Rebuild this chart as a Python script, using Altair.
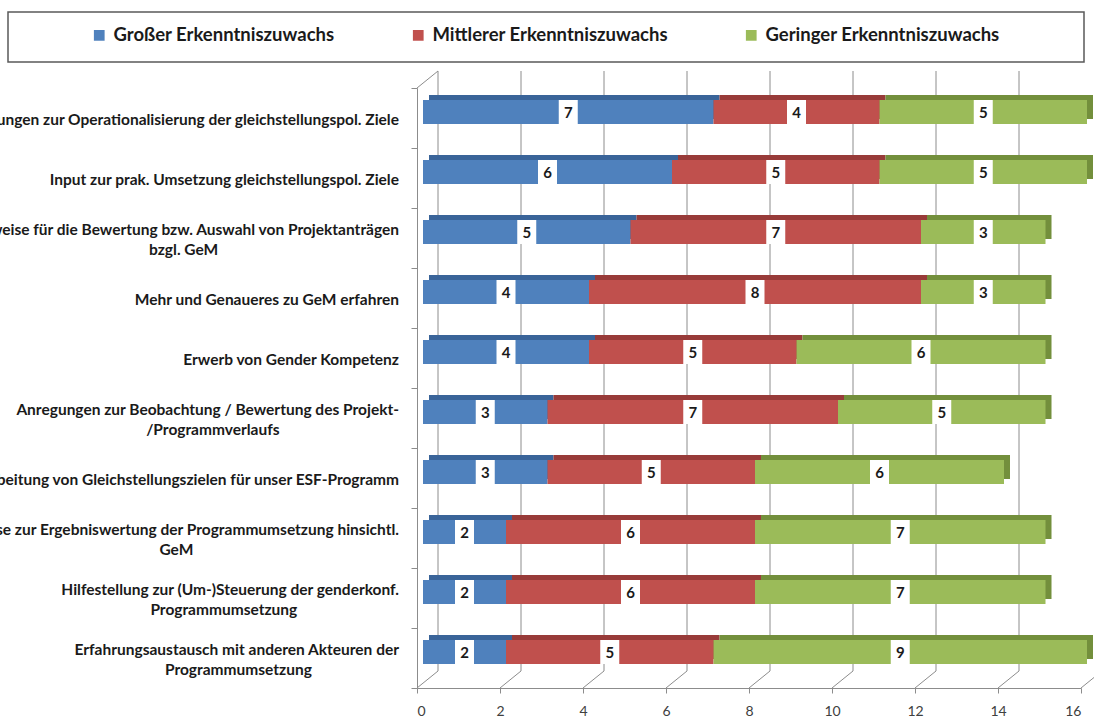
import altair as alt
import pandas as pd

# Category labels, split where the original text wraps
line1 = [
    "Anregungen zur Operationalisierung der gleichstellungspol. Ziele",
    "Input zur prak. Umsetzung gleichstellungspol. Ziele",
    "Hinweise für die Bewertung bzw. Auswahl von Projektanträgen",
    "Mehr und Genaueres zu GeM erfahren",
    "Erwerb von Gender Kompetenz",
    "Anregungen zur Beobachtung / Bewertung des Projekt-",
    "Erarbeitung von Gleichstellungszielen für unser ESF-Programm",
    "Hinweise zur Ergebniswertung der Programmumsetzung hinsichtl.",
    "Hilfestellung zur (Um-)Steuerung der genderkonf.",
    "Erfahrungsaustausch mit anderen Akteuren der",
]
line2 = ["", "", "bzgl. GeM", "", "", "/Programmverlaufs", "", "GeM",
         "Programmumsetzung", "Programmumsetzung"]

# Number of answers per knowledge-gain level
gross = [7, 6, 5, 4, 4, 3, 3, 2, 2, 2]
mittel = [4, 5, 7, 8, 5, 7, 5, 6, 6, 5]
gering = [5, 5, 3, 3, 6, 5, 6, 7, 7, 9]

series = ["Großer Erkenntniszuwachs", "Mittlerer Erkenntniszuwachs",
          "Geringer Erkenntniszuwachs"]
front_colors = ["#4f81bd", "#c0504d", "#9bbb59"]
top_colors = ["#3a6499", "#983b39", "#738f3c"]
x_ticks = list(range(0, 17, 2))

cats = [a + (" " + b if b else "") for a, b in zip(line1, line2)]

rows = []
for i, c in enumerate(cats):
    start = 0
    for k, (s, vals) in enumerate(zip(series, [gross, mittel, gering])):
        v = vals[i]
        rows.append(dict(cat=c, series=s, k=k, value=v,
                         x0=start, x1=start + v, mid=start + v / 2))
        start += v
bars = pd.DataFrame(rows)
labels = pd.DataFrame(dict(cat=cats, line1=line1, line2=line2))
ticks = pd.DataFrame(dict(t=x_ticks))
one = pd.DataFrame(dict(a=[0]))

FONT = "Lato"
GRAY = "#8c8c8c"
W, H = 664, 600
PX_PER_UNIT = W / 16
DX, DY = 21, -17          # depth of the back wall
BX, BY = 6, -6            # bar front face offset inside the depth
TX, TY = 6, -5            # bar top face depth
LABEL_SIZE = 15.5

y_scale = alt.Scale(domain=cats, paddingInner=0, paddingOuter=0)
x_scale = alt.Scale(domain=[0, 16], nice=False)

x_axis = alt.Axis(values=x_ticks, grid=False, domainColor=GRAY, tickColor=GRAY,
                  tickSize=5, labelFont=FONT, labelFontSize=14,
                  labelColor="#404040", labelPadding=11, title=None)
y_axis = alt.Axis(labels=False, domainColor=GRAY, tickColor=GRAY, tickSize=6,
                  tickBand="extent", grid=False, title=None)


def X(field):
    return alt.X(field, scale=x_scale, axis=x_axis, title=None)


def Y():
    return alt.Y("cat:N", sort=cats, scale=y_scale, axis=y_axis, title=None)


# back-wall gridlines
grid = alt.Chart(ticks).mark_rule(color=GRAY, strokeWidth=1, xOffset=DX).encode(
    x=X("t:Q"),
    y=alt.value(DY), y2=alt.value(H + DY),
)

# floor diagonals from front edge to back wall
floor = alt.Chart(ticks).mark_rule(color=GRAY, strokeWidth=1, x2Offset=DX).encode(
    x=X("t:Q"),
    x2="t:Q",
    y=alt.value(H), y2=alt.value(H + DY),
)

# top edge of the left wall
wall_top = alt.Chart(one).mark_rule(color=GRAY, strokeWidth=1).encode(
    x=alt.value(0), x2=alt.value(DX), y=alt.value(0), y2=alt.value(DY),
)

# dark top / side faces of the bars
tops = alt.Chart(bars).mark_bar(
    height=24, xOffset=BX + TX, x2Offset=BX + TX, yOffset=BY + TY
).encode(
    x=X("x0:Q"),
    x2="x1:Q",
    y=Y(),
    color=alt.Color("series:N", scale=alt.Scale(domain=series, range=top_colors),
                    legend=None),
)

# front faces of the bars
fronts = alt.Chart(bars).mark_bar(
    height=24, xOffset=BX, x2Offset=BX, yOffset=BY
).encode(
    x=X("x0:Q"),
    x2="x1:Q",
    y=Y(),
    color=alt.Color("series:N", scale=alt.Scale(domain=series, range=front_colors),
                    legend=alt.Legend(title=None, orient="none", direction="horizontal",
                                      legendX=-327, legendY=-62, symbolType="square",
                                      symbolSize=115, symbolStrokeWidth=0,
                                      labelFont=FONT, labelFontSize=18.5,
                                      labelFontWeight="bold", labelColor="#1a1a1a",
                                      labelLimit=400, columnPadding=74,
                                      labelOffset=5)),
)

# white boxes behind the value labels
boxes = alt.Chart(bars).mark_bar(
    height=24, color="white", xOffset=BX - 9.5, x2Offset=BX + 9.5, yOffset=BY
).encode(
    x=X("mid:Q"),
    x2="mid:Q",
    y=Y(),
)

values = alt.Chart(bars).mark_text(
    font=FONT, fontSize=15, fontWeight="bold", color="#1a1a1a",
    xOffset=BX, yOffset=BY + 1, baseline="middle", align="center"
).encode(
    x=X("mid:Q"),
    y=Y(),
    text="value:Q",
)

# category labels: first line right-aligned, second line centred under it
label_single = alt.Chart(labels).transform_filter("datum.line2 == ''").mark_text(
    font=FONT, fontSize=LABEL_SIZE, fontWeight="bold", color="#1a1a1a",
    align="right", baseline="middle", yOffset=2
).encode(x=alt.value(-18), y=Y(), text="line1:N")

label_first = alt.Chart(labels).transform_filter("datum.line2 != ''").mark_text(
    font=FONT, fontSize=LABEL_SIZE, fontWeight="bold", color="#1a1a1a",
    align="right", baseline="middle", yOffset=-8
).encode(x=alt.value(-18), y=Y(), text="line1:N")

label_second = alt.Chart(labels).transform_filter("datum.line2 != ''").transform_calculate(
    lx=f"(-18 - length(datum.line1) * 3.65) / {PX_PER_UNIT}"
).mark_text(
    font=FONT, fontSize=LABEL_SIZE, fontWeight="bold", color="#1a1a1a",
    align="center", baseline="middle", yOffset=12
).encode(x=X("lx:Q"), y=Y(), text="line2:N")

# frame around the legend
legend_box = alt.Chart(one).mark_rect(fill="white", stroke="#5a5a5a", strokeWidth=1.5).encode(
    x=alt.value(8 - 417), x2=alt.value(1084 - 417),
    y=alt.value(12 - 88), y2=alt.value(62 - 88),
)

chart = alt.layer(
    legend_box, grid, floor, wall_top, tops, fronts, boxes, values,
    label_single, label_first, label_second,
).resolve_scale(color="independent").properties(
    width=W, height=H,
    autosize=alt.AutoSizeParams(type="none"),
    padding={"left": 417, "top": 88, "right": 13, "bottom": 29},
    background="white",
).configure_view(stroke=None)

chart.save("out.html", embed_options={"renderer": "svg", "actions": False})
